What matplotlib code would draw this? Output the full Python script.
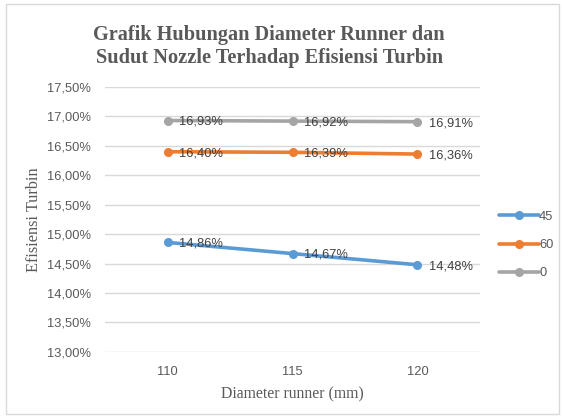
import matplotlib.pyplot as plt
from matplotlib.ticker import FuncFormatter

diameter = ['110', '115', '120']
series = ['45', '60', '0']
eff_45 = [14.86, 14.67, 14.48]
eff_60 = [16.40, 16.39, 16.36]
eff_0 = [16.93, 16.92, 16.91]
colors = ['#5B9BD5', '#ED7D31', '#A5A5A5']

grey = '#595959'
sans = ['Liberation Sans', 'DejaVu Sans']
serif = ['Liberation Serif', 'DejaVu Serif']

fig = plt.figure(figsize=(5.62, 4.16), dpi=100)
ax = fig.add_axes([0.187, 0.154, 0.667, 0.637])

x = range(len(diameter))
for name, vals, col in zip(series, [eff_45, eff_60, eff_0], colors):
    ax.plot(x, vals, color=col, lw=2.6, marker='o', ms=5.5, label=name,
            solid_capstyle='round')
    for xi, v in zip(x, vals):
        ax.annotate(f'{v:.2f}%'.replace('.', ','), (xi, v), xytext=(8, -1),
                    textcoords='offset points', va='center', ha='left',
                    fontsize=9.3, color='#404040', family=sans)

ax.set_xlim(-0.5, 2.5)
ax.set_ylim(13.0, 17.5)
ax.set_yticks([13 + 0.5 * i for i in range(10)])
ax.yaxis.set_major_formatter(FuncFormatter(lambda v, p: f'{v:.2f}%'.replace('.', ',')))
ax.set_xticks(list(x))
ax.set_xticklabels(diameter)
ax.grid(axis='y', color='#D9D9D9', lw=1)
ax.set_axisbelow(True)
for s in ax.spines.values():
    s.set_visible(False)
ax.tick_params(length=0, colors=grey, labelsize=9.3, pad=10)
for lab in ax.get_xticklabels() + ax.get_yticklabels():
    lab.set_family(sans)

ax.set_xlabel('Diameter runner (mm)', family=serif, fontsize=11.3, color=grey, labelpad=6)
ax.set_ylabel('Efisiensi Turbin', family=serif, fontsize=11.8, color=grey, labelpad=4)

fig.text(0.479, 0.888, 'Grafik Hubungan Diameter Runner dan\nSudut Nozzle Terhadap Efisiensi Turbin',
         ha='center', va='center', family=serif, fontsize=14.6, fontweight='bold',
         color=grey, linespacing=1.15)

leg = ax.legend(loc='center left', bbox_to_anchor=(1.02, 0.403), frameon=False,
                prop={'family': sans, 'size': 9.3}, labelcolor=grey,
                handlelength=3.1, handletextpad=0.0, labelspacing=1.25)

fig.patches.append(plt.Rectangle((0.01, 0.005), 0.985, 0.985, transform=fig.transFigure,
                                 fill=False, edgecolor='#D9D9D9', lw=1))

fig.savefig('out.png', dpi=100)
